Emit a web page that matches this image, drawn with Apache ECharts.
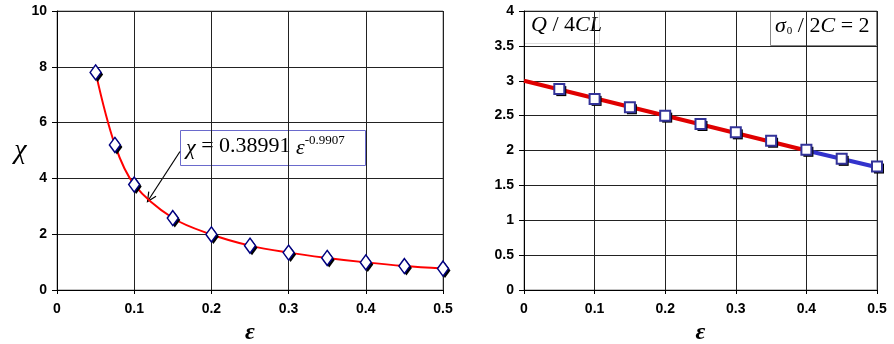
<!DOCTYPE html>
<html><head><meta charset="utf-8">
<script src="https://cdn.jsdelivr.net/npm/echarts@6/dist/echarts.min.js"></script>
<style>html,body{margin:0;padding:0;background:#fff}#c{width:894px;height:344px}</style>
</head><body><div id="c"></div>
<script>
// Left panel: chi vs epsilon
const epsLeft = [0.05, 0.075, 0.1, 0.15, 0.2, 0.25, 0.3, 0.35, 0.4, 0.45, 0.5];
const chiLeft = [7.8, 5.2, 3.78, 2.58, 1.99, 1.59, 1.34, 1.15, 0.99, 0.86, 0.77];
// Right panel: Q/4CL vs epsilon
const epsRight = [0.05, 0.1, 0.15, 0.2, 0.25, 0.3, 0.35, 0.4, 0.45, 0.5];
const qRight = [2.88, 2.74, 2.62, 2.5, 2.38, 2.26, 2.14, 2.01, 1.88, 1.77];
const redLineX = [0, 0.4];
const redLineY = [3.0, 2.0];
const blueLineX = [0.4, 0.5];
const blueLineY = [2.0, 1.76];

const zip = (a, b) => a.map((v, i) => [v, b[i]]);
const serif = '"Liberation Serif", "DejaVu Serif", serif';
const sans = '"Liberation Sans", Arial, sans-serif';

const chart = echarts.init(document.getElementById('c'));
const axisLabelBase = {color: '#000', fontFamily: sans, fontSize: 14, fontWeight: 'bold'};
const splitLine = {show: true, lineStyle: {color: '#222', width: 1}};
function xAx(idx, max) {
  return {gridIndex: idx, type: 'value', min: 0, max: max, interval: 0.1,
    axisLine: {show: true, onZero: false, lineStyle: {color: '#000', width: 1}},
    axisTick: {show: true, length: 4, lineStyle: {color: '#000'}},
    axisLabel: Object.assign({}, axisLabelBase, {margin: 12, formatter: v => String(+v.toFixed(2))}),
    splitLine: splitLine,
    name: 'ε', nameLocation: 'middle', nameGap: 27,
    nameTextStyle: {fontFamily: serif, fontStyle: 'italic', fontWeight: 'bold', fontSize: 24, color: '#000'}};
}
function yAx(idx, max, interval, name) {
  return {gridIndex: idx, type: 'value', min: 0, max: max, interval: interval,
    axisLine: {show: true, lineStyle: {color: '#000', width: 1}},
    axisTick: {show: true, length: 5, lineStyle: {color: '#000'}},
    axisLabel: Object.assign({}, axisLabelBase, {margin: 10}), splitLine: splitLine,
    name: name, nameLocation: 'middle', nameRotate: 0, nameGap: 29,
    nameTextStyle: {fontFamily: serif, fontStyle: 'italic', fontSize: 28, color: '#000', padding: [8, 0, 0, 0]}};
}

// arrow
const a0 = [180, 151.5], a1 = [147.5, 201.5];
const dx = a0[0] - a1[0], dy = a0[1] - a1[1], L = Math.hypot(dx, dy);
const ux = dx / L, uy = dy / L;
function rot(x, y, ang) { const c = Math.cos(ang), s = Math.sin(ang); return [x * c - y * s, x * s + y * c]; }
const h1 = rot(ux, uy, 0.45), h2 = rot(ux, uy, -0.45);
const hl = 10;

chart.setOption({
  animation: false,
  backgroundColor: '#fff',
  grid: [
    {left: 57, right: 451, top: 11, bottom: 54, show: true, borderColor: '#888', borderWidth: 1, containLabel: false, outerBoundsMode: 'none'},
    {left: 524, right: 17, top: 11, bottom: 54, show: true, borderColor: '#888', borderWidth: 1, containLabel: false, outerBoundsMode: 'none'}
  ],
  xAxis: [xAx(0, 0.5), xAx(1, 0.5)],
  yAxis: [yAx(0, 10, 2, 'χ'), yAx(1, 4, 0.5, '')],
  series: [
    {type: 'line', xAxisIndex: 0, yAxisIndex: 0, data: zip(epsLeft, chiLeft),
     smooth: 0.35, showSymbol: false,
     lineStyle: {color: '#ff0000', width: 2}, z: 3},
    {type: 'scatter', xAxisIndex: 0, yAxisIndex: 0, data: zip(epsLeft, chiLeft),
     symbol: 'diamond', symbolSize: [11, 15], symbolOffset: [2, 2],
     itemStyle: {color: '#000', opacity: 1}, z: 4},
    {type: 'scatter', xAxisIndex: 0, yAxisIndex: 0, data: zip(epsLeft, chiLeft),
     symbol: 'diamond', symbolSize: [11, 15],
     itemStyle: {color: '#fff', borderColor: '#000080', borderWidth: 1.5, opacity: 1}, z: 5},
    {type: 'line', xAxisIndex: 1, yAxisIndex: 1, data: zip(redLineX, redLineY),
     showSymbol: false, lineStyle: {color: '#e00000', width: 4}, z: 3},
    {type: 'line', xAxisIndex: 1, yAxisIndex: 1, data: zip(blueLineX, blueLineY),
     showSymbol: false, lineStyle: {color: '#3333cc', width: 4}, z: 3},
    {type: 'scatter', xAxisIndex: 1, yAxisIndex: 1, data: zip(epsRight, qRight),
     symbol: 'rect', symbolSize: 10, symbolOffset: [2, 2],
     itemStyle: {color: '#000', opacity: 1}, z: 4},
    {type: 'scatter', xAxisIndex: 1, yAxisIndex: 1, data: zip(epsRight, qRight),
     symbol: 'rect', symbolSize: 10,
     itemStyle: {color: '#fff', borderColor: '#333399', borderWidth: 2, opacity: 1}, z: 5}
  ],
  graphic: [
    {type: 'group', z: 100, children: [
      {type: 'rect', shape: {x: 180.5, y: 130.5, width: 185, height: 35},
       style: {fill: '#fff', stroke: '#6a6acc', lineWidth: 1}},
      {type: 'text', left: 186, top: 134,
       style: {text: '{i|χ} = 0.38991 {i|ε}{s|-0.9907}', fill: '#000',
         rich: {
           i: {fontFamily: serif, fontStyle: 'italic', fontSize: 22, verticalAlign: 'bottom'},
           s: {fontFamily: serif, fontSize: 13, verticalAlign: 'top', padding: [0, 0, 12, 0]}
         }, fontFamily: serif, fontSize: 22}},
      {type: 'line', shape: {x1: a0[0], y1: a0[1], x2: a1[0], y2: a1[1]}, style: {stroke: '#000', lineWidth: 1.2}},
      {type: 'polyline', shape: {points: [[a1[0] + h1[0] * hl, a1[1] + h1[1] * hl], a1, [a1[0] + h2[0] * hl, a1[1] + h2[1] * hl]]},
       style: {stroke: '#000', lineWidth: 1.2, fill: null}},
      {type: 'rect', shape: {x: 524.5, y: 11.5, width: 75, height: 32},
       style: {fill: '#fff', stroke: '#ddd', lineWidth: 1}},
      {type: 'text', left: 531, top: 14,
       style: {text: '{i|Q} / 4{i|CL}', fill: '#000', fontFamily: serif, fontSize: 22,
         rich: {i: {fontFamily: serif, fontStyle: 'italic', fontSize: 22}}}},
      {type: 'rect', shape: {x: 770.5, y: 11.5, width: 106, height: 34},
       style: {fill: '#fff', stroke: '#888', lineWidth: 1}},
      {type: 'text', left: 775, top: 15,
       style: {text: '{i|σ}{s|0} / 2{i|C} = 2', fill: '#000', fontFamily: serif, fontSize: 22,
         rich: {i: {fontFamily: serif, fontStyle: 'italic', fontSize: 22},
                s: {fontFamily: serif, fontSize: 11, verticalAlign: 'bottom', padding: [10, 0, 0, 1]}}}}
    ]}
  ]
});
</script></body></html>
